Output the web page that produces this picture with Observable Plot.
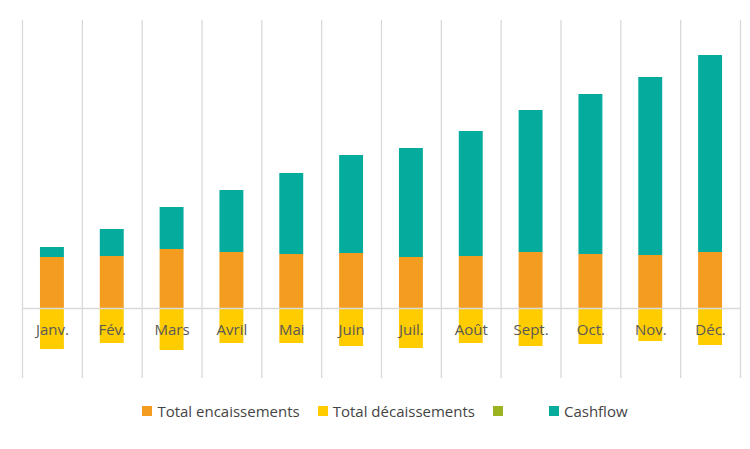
<!DOCTYPE html>
<html><head><meta charset="utf-8">
<script src="https://cdn.jsdelivr.net/npm/d3@7"></script>
<script src="https://cdn.jsdelivr.net/npm/@observablehq/plot@0.6"></script>
<style>
body{margin:0;background:#fff;font-family:"Open Sans",sans-serif;}
#legend{display:flex;justify-content:center;gap:18px;font-size:15px;color:#444;margin-top:6px;margin-left:20px}
#legend span{display:inline-flex;align-items:center;gap:5px}
#legend i{display:inline-block;width:10px;height:10px}
</style></head><body>
<div id="chart"></div>
<div id="legend">
<span><i style="background:#F39C1F"></i>Total encaissements</span>
<span><i style="background:#FFCC00"></i>Total décaissements</span>
<span style="margin-right:28px"><i style="background:#9AB31E"></i></span>
<span><i style="background:#05AC9E"></i>Cashflow</span>
</div>
<script>
const months=["Janv.","Fév.","Mars","Avril","Mai","Juin","Juil.","Août","Sept.","Oct.","Nov.","Déc."];
const encaissements=[51,52,59,56,54,55,51,52,56,54,53,56];
const decaissements=[-41,-35,-42,-35,-35,-38,-40,-35,-38,-36,-33,-37];
const cashflow=[10,27,42,62,81,98,109,125,142,160,178,197];
const data=months.map((m,i)=>({i,m,enc:encaissements[i],dec:decaissements[i],cf:cashflow[i]}));
const edges=d3.range(13);
const chart=Plot.plot({
  width:750,height:395,marginTop:20,marginBottom:17,marginLeft:22,marginRight:10,
  x:{domain:[0,12],axis:null},
  y:{domain:[-70,288],axis:null},
  marks:[
    Plot.ruleX(edges,{stroke:"#d9d9d9",strokeWidth:1.3}),
    Plot.rectY(data,{x1:d=>d.i+0.3,x2:d=>d.i+0.7,y1:0,y2:"enc",fill:"#F39C1F"}),
    Plot.rectY(data,{x1:d=>d.i+0.3,x2:d=>d.i+0.7,y1:"enc",y2:d=>d.enc+d.cf,fill:"#05AC9E"}),
    Plot.rectY(data,{x1:d=>d.i+0.3,x2:d=>d.i+0.7,y1:0,y2:"dec",fill:"#FFCC00"}),
    Plot.ruleY([0],{stroke:"#d9d9d9",strokeWidth:1.3}),
    Plot.text(data,{x:d=>d.i+0.5,y:-22,text:"m",fill:"#595959",fontSize:15,fontFamily:"Open Sans"})
  ]
});
document.getElementById("chart").append(chart);
</script></body></html>
